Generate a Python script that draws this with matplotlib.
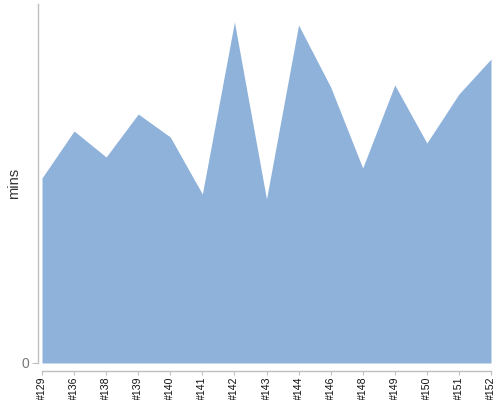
import matplotlib
matplotlib.use("Agg")
import matplotlib.pyplot as plt

plt.rcParams["font.family"] = ["Liberation Sans", "DejaVu Sans"]

builds = ["#129", "#136", "#138", "#139", "#140", "#141", "#142", "#143",
          "#144", "#146", "#148", "#149", "#150", "#151", "#152"]
mins = [18.5, 23.2, 20.6, 24.9, 22.6, 16.9, 34.1, 16.4,
        33.8, 27.6, 19.5, 27.8, 22.0, 26.9, 30.4]

fill_color = "#8fb2da"
axis_gray = "#c0c0c0"

fig = plt.figure(figsize=(5, 4), dpi=100)
ax = fig.add_axes([42 / 500, 37 / 400, 449 / 500, 359 / 400])

# spine offsets first: set_position resets the tick label styles
for side in ["top", "right"]:
    ax.spines[side].set_visible(False)
ax.spines["left"].set_position(("outward", 3))
ax.spines["bottom"].set_position(("outward", 6))
for side in ["left", "bottom"]:
    ax.spines[side].set_color(axis_gray)
    ax.spines[side].set_linewidth(1)

x = list(range(len(builds)))
ax.fill_between(x, mins, 0, color=fill_color, linewidth=0)

ax.set_xlim(0, len(builds) - 1)
ax.set_ylim(0, 35.9)

ax.set_xticks(x)
ax.set_xticklabels(builds, rotation=90, fontsize=7.6, color="#111111")
ax.set_yticks([0])
ax.set_yticklabels(["0"], fontsize=10, color="#777777")

ax.set_ylabel("mins", fontsize=10.5, color="#333333")
ax.yaxis.set_label_coords(-0.047, 0.5)

ax.tick_params(axis="x", length=3, color=axis_gray, pad=0.5)
ax.tick_params(axis="y", length=4, color=axis_gray, pad=2)

fig.savefig("out.png", dpi=100)
